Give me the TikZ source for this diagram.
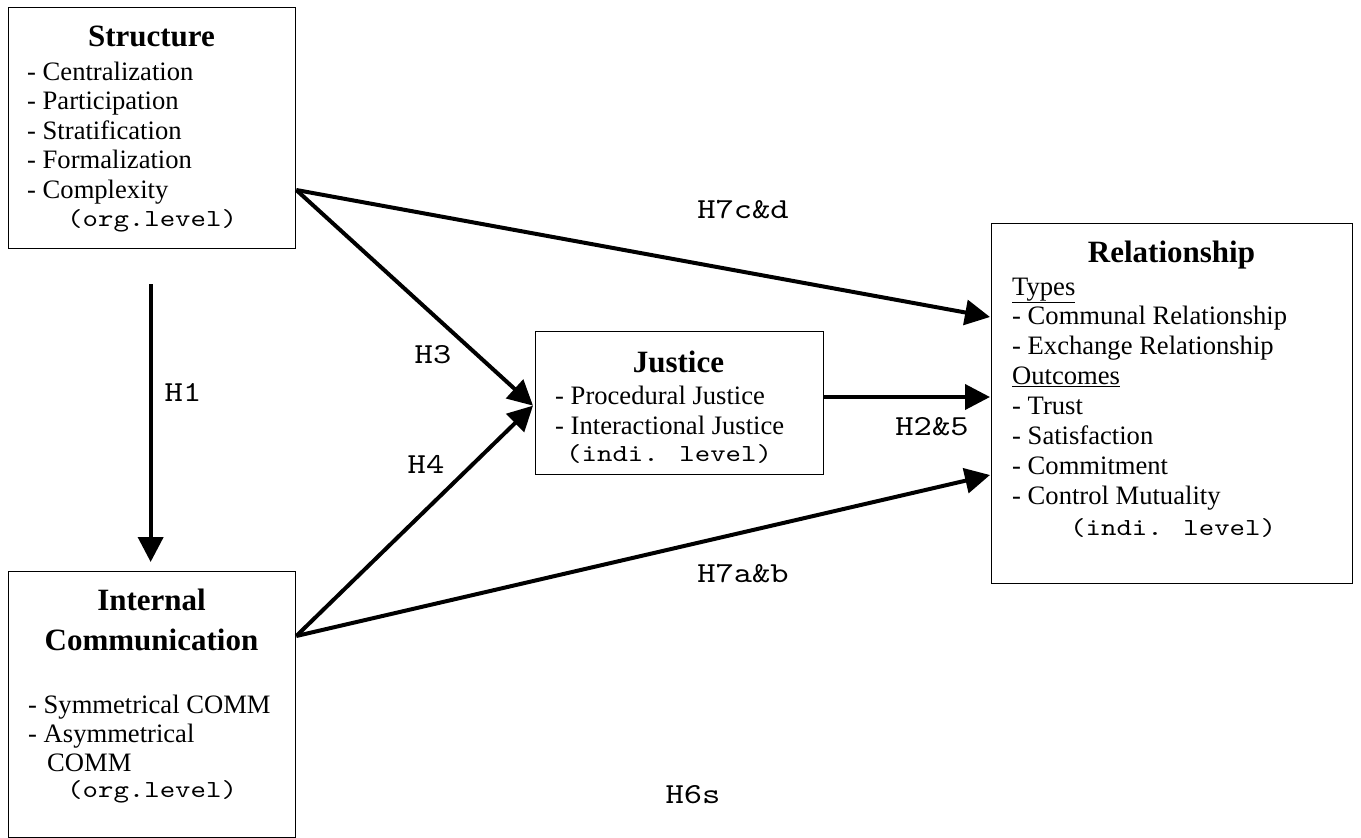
\documentclass[tikz,border=0pt]{standalone}
\usepackage{fontspec}
\setmainfont{Liberation Serif}
\newfontfamily\courfont{lmmono10-regular.otf}[FakeStretch=1.2]
\usetikzlibrary{arrows.meta,calc}

\begin{document}
\begin{tikzpicture}[x=1pt,y=-1pt,
  box/.style={draw, line width=1.3pt, rectangle, inner sep=0pt, anchor=north west},
  head/.style={font=\fontsize{31}{40}\selectfont\bfseries, anchor=base, inner sep=0pt},
  body/.style={font=\fontsize{26.6}{30.3}\selectfont, anchor=base west, inner sep=0pt},
  lvl/.style={font=\fontsize{24.5}{28}\selectfont\courfont, anchor=base west, inner sep=0pt},
  hyp/.style={font=\fontsize{29}{34}\selectfont\courfont, inner sep=0pt},
  link/.style={line width=4pt, -{Triangle[length=25pt,width=25pt]}}
]
\useasboundingbox (0,0) rectangle (1361,838);

% ---- boxes ----
\node[box, minimum width=287pt, minimum height=241pt] (struct)  at (8,7) {};
\node[box, minimum width=287pt, minimum height=266pt] (intcomm) at (8,571) {};
\node[box, minimum width=288pt, minimum height=143pt] (justice) at (535,331) {};
\node[box, minimum width=361pt, minimum height=360pt] (rel)     at (991,223) {};

% ---- Structure ----
\node[head] (sHead) at (151.5,46) {Structure};
\foreach \t [count=\i] in {- Centralization, - Participation, - Stratification, - Formalization, - Complexity}
  \node[body] (s\i) at (27,{80+29.5*(\i-1)}) {\t};
\node[lvl] (sLvl) at (67,226) {(org.level)};

% ---- Internal Communication ----
\node[head] (cHead1) at (151.5,610) {Internal};
\node[head] (cHead2) at (151.5,650) {Communication};
\node[body] (c1) at (28,713) {- Symmetrical COMM};
\node[body] (c2) at (28,742) {- Asymmetrical};
\node[body] (c3) at (47,771) {COMM};
\node[lvl] (cLvl) at (67,797) {(org.level)};

% ---- Justice ----
\node[head] (jHead) at (678.5,372) {Justice};
\node[body] (j1) at (555,404) {- Procedural Justice};
\node[body] (j2) at (555,434) {- Interactional Justice};
\node[lvl] (jLvl) at (566,461) {(indi. level)};

% ---- Relationship ----
\node[head] (rHead) at (1171.5,262) {Relationship};
\foreach \t [count=\i] in {\underline{Types}, - Communal Relationship, - Exchange Relationship, \underline{Outcomes}, - Trust, - Satisfaction, - Commitment, - Control Mutuality}
  \node[body] (r\i) at (1012,{295+29.9*(\i-1)}) {\t};
\node[lvl] (rLvl) at (1070,535) {(indi. level)};

% ---- connector end points on the box edges ----
\coordinate (sOut) at ($(struct.north east)+(0,183)$);
\coordinate (cOut) at ($(intcomm.north east)+(0,65)$);
\coordinate (jIn)  at ($(justice.west)+(-2,2.5)$);
\coordinate (jOut) at ($(justice.north east)+(0,66)$);
\coordinate (rIn1) at ($(rel.north west)+(-1,94)$);
\coordinate (rIn2) at ($(rel.north west)+(-1,174)$);
\coordinate (rIn3) at ($(rel.north west)+(-1,252)$);
\coordinate (sDown) at ($(struct.south)+(-1.5,35)$);
\coordinate (cUp)   at ($(intcomm.north)+(-1.5,-9)$);

% ---- connectors ----
\draw[link] (sDown) -- (cUp);
\draw[link] (sOut) -- (rIn1);
\draw[link] (sOut) -- (jIn);
\draw[link] (cOut) -- (jIn);
\draw[link] (cOut) -- (rIn3);
\draw[link] (jOut) -- (rIn2);

% ---- hypothesis labels ----
\node[hyp] (h7cd) at (743,210) {H7c\&d};
\node[hyp] (h3)   at (433,355) {H3};
\node[hyp] (h1)   at (183,392) {H1};
\node[hyp] (h4)   at (426,464) {H4};
\node[hyp] (h25)  at (932,427) {H2\&5};
\node[hyp] (h7ab) at (743,574) {H7a\&b};
\node[hyp] (h6s)  at (693,795) {H6s};
\end{tikzpicture}
\end{document}
